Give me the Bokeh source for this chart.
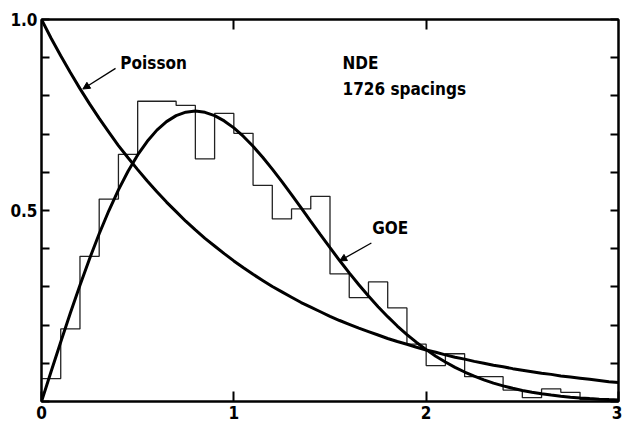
from bokeh.plotting import figure
from bokeh.models import (LinearAxis, FixedTicker, Range1d, Label, Arrow, NormalHead)
from bokeh.embed import file_html
from bokeh.resources import INLINE

# ---- data ----
bin_edges = [round(i * 0.1, 1) for i in range(31)]
hist_values = [0.06, 0.19, 0.38, 0.53, 0.647, 0.786, 0.786, 0.775, 0.635, 0.754,
               0.702, 0.566, 0.478, 0.504, 0.537, 0.334, 0.272, 0.313, 0.245, 0.150,
               0.094, 0.125, 0.065, 0.065, 0.030, 0.010, 0.033, 0.024, 0.005, 0.005]

s_grid = [round(i * 0.05, 2) for i in range(61)]
poisson = [1.000, 0.951, 0.905, 0.861, 0.819, 0.779, 0.741, 0.705, 0.670, 0.638,
           0.607, 0.577, 0.549, 0.522, 0.497, 0.472, 0.449, 0.427, 0.407, 0.387,
           0.368, 0.350, 0.333, 0.317, 0.301, 0.287, 0.273, 0.259, 0.247, 0.235,
           0.223, 0.212, 0.202, 0.192, 0.183, 0.174, 0.165, 0.157, 0.150, 0.142,
           0.135, 0.129, 0.122, 0.116, 0.111, 0.105, 0.100, 0.095, 0.091, 0.086,
           0.082, 0.078, 0.074, 0.071, 0.067, 0.064, 0.061, 0.058, 0.055, 0.052,
           0.050]
goe = [0.0, 0.0784, 0.1559, 0.2315, 0.3044, 0.3739, 0.4391, 0.4993, 0.5541, 0.6029,
       0.6454, 0.6812, 0.7104, 0.7327, 0.7483, 0.7574, 0.7602, 0.7570, 0.7483, 0.7345,
       0.7162, 0.6939, 0.6680, 0.6393, 0.6083, 0.5755, 0.5415, 0.5068, 0.4717, 0.4369,
       0.4026, 0.3690, 0.3366, 0.3055, 0.2760, 0.2481, 0.2220, 0.1976, 0.1752, 0.1546,
       0.1358, 0.1187, 0.1033, 0.0895, 0.0772, 0.0663, 0.0567, 0.0482, 0.0409, 0.0345,
       0.0290, 0.0243, 0.0202, 0.0168, 0.0138, 0.0114, 0.0093, 0.0076, 0.0062, 0.0050,
       0.0040]

x_ticks = [0, 1, 2, 3]
x_tick_labels = {0: "0", 1: "1", 2: "2", 3: "3"}
y_ticks = [round(i * 0.1, 1) for i in range(11)]
y_tick_labels = {0.5: "0.5", 1.0: "1.0"}

FONT = "DejaVu Sans Condensed, DejaVu Sans"

p = figure(width=622, height=423, output_backend="svg", toolbar_location=None,
           x_range=Range1d(0, 3), y_range=Range1d(0, 1.0),
           x_axis_type=None, y_axis_type=None,
           min_border_left=41, min_border_right=4, min_border_top=19, min_border_bottom=22)
p.grid.visible = False
p.outline_line_color = "black"
p.outline_line_width = 2
p.background_fill_color = "white"
p.border_fill_color = "white"


def make_axis(ticks, labels, show_labels, tick_len):
    ax = LinearAxis(ticker=FixedTicker(ticks=ticks))
    ax.major_tick_in = tick_len
    ax.major_tick_out = 0
    ax.minor_tick_in = 0
    ax.minor_tick_out = 0
    ax.axis_line_color = "black"
    ax.axis_line_width = 2
    ax.major_tick_line_color = "black"
    ax.major_tick_line_width = 2
    if show_labels:
        ax.major_label_overrides = {t: labels.get(t, "") for t in ticks}
        ax.major_label_text_font = FONT
        ax.major_label_text_font_style = "bold"
        ax.major_label_text_font_size = "17px"
        ax.major_label_text_color = "black"
        ax.major_label_standoff = 4
    else:
        ax.major_label_overrides = {t: "" for t in ticks}
        ax.major_label_text_font_size = "0px"
        ax.major_label_standoff = 0
    return ax


p.add_layout(make_axis(x_ticks, x_tick_labels, True, 10), "below")
p.add_layout(make_axis([1, 2], {}, False, 10), "above")
p.add_layout(make_axis(y_ticks, y_tick_labels, True, 8), "left")
p.add_layout(make_axis(y_ticks, {}, False, 8), "right")

# histogram (steps)
p.step(bin_edges, hist_values + [hist_values[-1]], mode="after",
       line_color="#222222", line_width=1.3)

# theoretical curves
p.line(s_grid, poisson, line_color="black", line_width=3)
p.line(s_grid, goe, line_color="black", line_width=3)

# labels
for txt, x, y in [("Poisson", 0.41, 0.885), ("NDE", 1.565, 0.885),
                  ("1726  spacings", 1.565, 0.818), ("GOE", 1.72, 0.455)]:
    p.add_layout(Label(x=x, y=y, text=txt, text_font=FONT, text_font_style="bold",
                       text_font_size="17px", text_baseline="middle", text_color="black"))

p.add_layout(Arrow(end=NormalHead(size=7, fill_color="black", line_color="black"),
                   x_start=0.385, y_start=0.872, x_end=0.215, y_end=0.818,
                   line_width=1.3, line_color="black"))
p.add_layout(Arrow(end=NormalHead(size=7, fill_color="black", line_color="black"),
                   x_start=1.715, y_start=0.415, x_end=1.55, y_end=0.368,
                   line_width=1.3, line_color="black"))

open("out.html", "w").write(file_html(p, INLINE))
